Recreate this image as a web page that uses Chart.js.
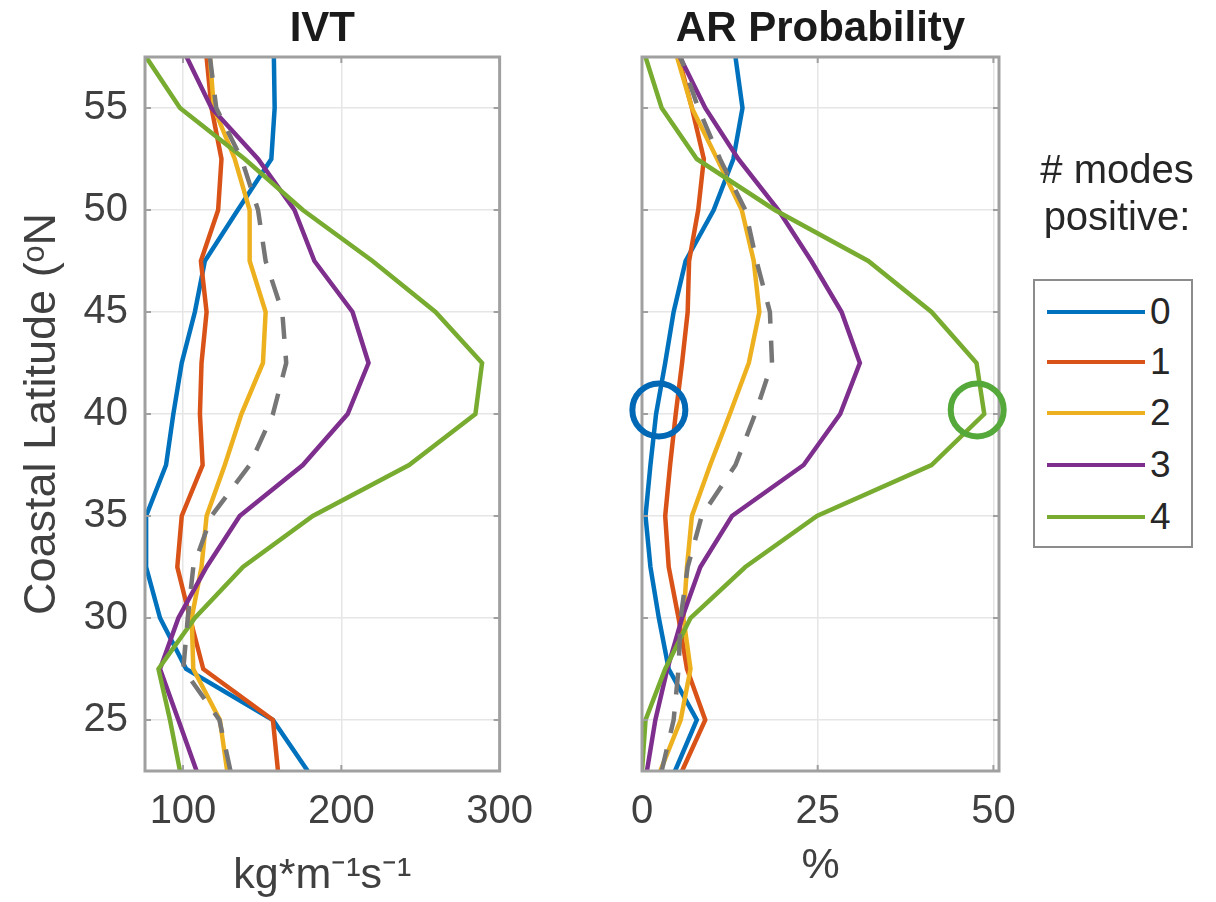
<!DOCTYPE html>
<html>
<head>
<meta charset="utf-8">
<title>IVT and AR probability by coastal latitude</title>
<script src="https://cdn.jsdelivr.net/npm/chart.js@4.4.1/dist/chart.umd.min.js"></script>
<style>
  html, body { margin: 0; padding: 0; background: #fff; }
  body {
    width: 1216px; height: 902px; position: relative; overflow: hidden;
    font-family: "Liberation Sans", Arial, sans-serif; color: #262626;
  }
  #ivtWrap { position: absolute; left: 0; top: 0; }
  #arWrap { position: absolute; left: 560px; top: 0; }
  #legendTitle {
    position: absolute; left: 1017px; top: 146px; width: 200px;
    text-align: center; font-size: 40px; line-height: 47px; color: #262626;
  }
  #legend {
    position: absolute; left: 1033px; top: 279px; width: 156px; height: 265px;
    border: 2px solid #8c8c8c; background: #fff;
  }
  .legend-row { position: absolute; left: 0; width: 156px; height: 40px; }
  .legend-line { position: absolute; left: 12px; top: 18px; width: 98px; height: 4px; }
  .legend-label {
    position: absolute; left: 115px; top: 0; font-size: 37px; line-height: 40px; color: #262626;
  }
</style>
</head>
<body>
<div id="ivtWrap"><canvas id="ivtChart" width="550" height="902"></canvas></div>
<div id="arWrap"><canvas id="arChart" width="480" height="902"></canvas></div>
<div id="legendTitle"># modes<br>positive:</div>
<div id="legend"></div>

<script>
// latitude of each sample, south to north
const latitudes = [22.5, 25, 27.5, 30, 32.5, 35, 37.5, 40, 42.5, 45, 47.5, 50, 52.5, 55, 57.5];

const seriesNames = ['0', '1', '2', '3', '4'];
const seriesColors = ['#0072BD', '#D95319', '#EDB120', '#7E2F8E', '#77AC30'];
const meanColor = '#767676';

// IVT (kg m-1 s-1), one array per number of positive modes
const ivtModes0 = [178.8, 156.8, 102.0, 85.5, 76.7, 76.7, 89.3, 93.9, 99.2, 107.5, 113.8, 134.6, 155.8, 157.9, 157.4];
const ivtModes1 = [160.0, 156.8, 112.8, 104.4, 96.4, 99.2, 112.4, 110.7, 111.7, 114.9, 111.3, 122.2, 124.3, 118.0, 114.9];
const ivtModes2 = [127.9, 123.3, 106.5, 105.5, 111.7, 114.9, 126.4, 136.9, 150.5, 152.2, 142.1, 142.1, 132.7, 119.5, 117.0];
const ivtModes3 = [108.6, 97.1, 85.5, 97.1, 114.9, 135.8, 175.7, 204.0, 217.2, 207.1, 183.0, 170.4, 147.4, 118.0, 102.3];
const ivtModes4 = [98.1, 91.8, 84.5, 107.5, 137.9, 182.0, 242.8, 284.7, 288.9, 259.5, 219.7, 175.7, 139.0, 98.1, 76.7];
const ivtMean = [130.0, 123.0, 100.2, 103.0, 106.5, 118.0, 142.1, 156.8, 165.2, 162.7, 152.2, 147.4, 137.0, 121.0, 117.0];

// AR probability (%)
const arModes0 = [4.7, 7.8, 3.8, 2.4, 1.2, 0.5, 1.2, 2.0, 3.3, 4.5, 6.2, 10.2, 13.0, 14.3, 13.3];
const arModes1 = [5.7, 9.0, 6.4, 5.2, 3.8, 3.3, 4.0, 4.8, 5.7, 6.5, 6.7, 8.0, 8.8, 7.1, 5.2];
const arModes2 = [2.6, 5.5, 6.9, 5.9, 6.4, 7.1, 9.7, 12.5, 15.2, 16.7, 15.9, 14.2, 10.7, 7.1, 5.0];
const arModes3 = [0.7, 1.9, 3.6, 5.7, 8.3, 12.8, 23.0, 28.2, 31.0, 28.4, 24.1, 19.4, 13.7, 9.0, 5.4];
const arModes4 = [0.0, 0.5, 3.3, 6.9, 14.7, 24.9, 41.2, 48.7, 47.6, 41.2, 32.2, 18.9, 7.8, 2.8, 0.5];
const arMean = [2.8, 4.5, 5.2, 5.5, 6.5, 8.5, 13.3, 16.1, 18.5, 18.2, 16.3, 14.7, 11.1, 8.0, 5.5];

// tick labels
const latTicks = [25, 30, 35, 40, 45, 50, 55];
const ivtTicks = [100, 200, 300];
const arTicks = [0, 25, 50];

// highlighted points on the AR panel (percent, latitude)
const arHighlights = [
    { x: 2.4, y: 40.2, color: '#0068B5' },
    { x: 47.7, y: 40.2, color: '#55A83A' }
];

const FONT = '"Liberation Sans", Arial, sans-serif';
const TEXT = '#404040';
const GRID = '#e6e6e6';
const BOX = '#a0a0a0';

Chart.defaults.font.family = FONT;
Chart.defaults.color = TEXT;

function toPoints(values) {
    return values.map((v, i) => ({ x: v, y: latitudes[i] }));
}

function buildDatasets(modeSeries, mean) {
    const sets = modeSeries.map((values, i) => ({
        label: seriesNames[i],
        data: toPoints(values),
        borderColor: seriesColors[i],
        borderWidth: 4.5,
        pointRadius: 0,
        showLine: true,
        tension: 0,
        order: modeSeries.length - i
    }));
    sets.push({
        label: 'mean',
        data: toPoints(mean),
        borderColor: meanColor,
        borderWidth: 4.5,
        borderDash: [22, 17],
        pointRadius: 0,
        showLine: true,
        tension: 0,
        order: 0
    });
    return sets;
}

// axes box with inward tick marks, like the original figure
const boxPlugin = {
    id: 'axesBox',
    afterDatasetsDraw(chart) {
        const { ctx, chartArea: a, scales } = chart;
        ctx.save();
        ctx.strokeStyle = BOX;
        ctx.lineWidth = 3;
        ctx.strokeRect(a.left, a.top, a.right - a.left, a.bottom - a.top);
        ctx.lineWidth = 2;
        const len = 6;
        ctx.beginPath();
        scales.x.ticks.forEach(t => {
            const px = scales.x.getPixelForValue(t.value);
            ctx.moveTo(px, a.bottom); ctx.lineTo(px, a.bottom - len);
            ctx.moveTo(px, a.top); ctx.lineTo(px, a.top + len);
        });
        scales.y.ticks.forEach(t => {
            const py = scales.y.getPixelForValue(t.value);
            ctx.moveTo(a.left, py); ctx.lineTo(a.left + len, py);
            ctx.moveTo(a.right, py); ctx.lineTo(a.right - len, py);
        });
        ctx.stroke();
        ctx.restore();
    }
};

const highlightPlugin = {
    id: 'highlights',
    afterDraw(chart, args, opts) {
        if (!opts.points) return;
        const { ctx, scales } = chart;
        ctx.save();
        ctx.lineWidth = 6;
        opts.points.forEach(p => {
            ctx.strokeStyle = p.color;
            ctx.beginPath();
            ctx.arc(scales.x.getPixelForValue(p.x), scales.y.getPixelForValue(p.y), 26.5, 0, Math.PI * 2);
            ctx.stroke();
        });
        ctx.restore();
    }
};

function makeChart(canvasId, cfg) {
    return new Chart(document.getElementById(canvasId), {
        type: 'scatter',
        data: { datasets: buildDatasets(cfg.modes, cfg.mean) },
        plugins: [boxPlugin, highlightPlugin],
        options: {
            responsive: false,
            animation: false,
            devicePixelRatio: 1,
            layout: { padding: { left: 0, right: cfg.padRight, top: 0, bottom: 0 } },
            plugins: {
                legend: { display: false },
                tooltip: { enabled: false },
                title: {
                    display: true,
                    text: cfg.title,
                    fullSize: false,
                    color: '#1a1a1a',
                    font: { size: 42, weight: 'bold' },
                    padding: { top: 4, bottom: 2.6 }
                },
                highlights: { points: cfg.highlights || null }
            },
            scales: {
                x: {
                    type: 'linear',
                    min: cfg.xMin,
                    max: cfg.xMax,
                    afterBuildTicks: s => { s.ticks = cfg.xTicks.map(v => ({ value: v })); },
                    afterFit: s => { s.height = 131; },
                    grid: { color: GRID, lineWidth: 1.5, drawTicks: false },
                    border: { display: false },
                    ticks: { padding: 17, color: TEXT, font: { size: 40 }, maxRotation: 0, autoSkip: false },
                    title: {
                        display: true,
                        text: cfg.xTitle,
                        color: TEXT,
                        font: { size: 43 },
                        padding: { top: 0, bottom: cfg.xTitlePad }
                    }
                },
                y: {
                    type: 'linear',
                    min: 22.5,
                    max: 57.5,
                    afterBuildTicks: s => { s.ticks = latTicks.map(v => ({ value: v })); },
                    afterFit: s => { s.width = cfg.yWidth; },
                    grid: { color: GRID, lineWidth: 1.5, drawTicks: false },
                    border: { display: false },
                    ticks: { display: cfg.yLabels, padding: 17, color: TEXT, font: { size: 40 }, autoSkip: false },
                    title: {
                        display: cfg.yLabels,
                        text: 'Coastal Latitude (\u1D52N',
                        color: TEXT,
                        font: { size: 45 },
                        padding: { top: 16, bottom: 0 }
                    }
                }
            }
        }
    });
}

makeChart('ivtChart', {
    title: 'IVT',
    modes: [ivtModes0, ivtModes1, ivtModes2, ivtModes3, ivtModes4],
    mean: ivtMean,
    xMin: 76, xMax: 300, xTicks: ivtTicks,
    xTitle: 'kg*m\u207B\u00B9s\u207B\u00B9', xTitlePad: 0,
    yWidth: 145, yLabels: true, padRight: 48
});

makeChart('arChart', {
    title: 'AR Probability',
    modes: [arModes0, arModes1, arModes2, arModes3, arModes4],
    mean: arMean,
    xMin: 0, xMax: 50.8, xTicks: arTicks,
    xTitle: '%', xTitlePad: 10,
    yWidth: 82, yLabels: false, padRight: 41,
    highlights: arHighlights
});

// legend rows built from the series names and colours
const legend = document.getElementById('legend');
const rowCentres = [31, 81, 132, 184, 236];
seriesNames.forEach((name, i) => {
    const row = document.createElement('div');
    row.className = 'legend-row';
    row.style.top = (rowCentres[i] - 20) + 'px';
    const line = document.createElement('div');
    line.className = 'legend-line';
    line.style.background = seriesColors[i];
    const label = document.createElement('div');
    label.className = 'legend-label';
    label.textContent = name;
    row.appendChild(line);
    row.appendChild(label);
    legend.appendChild(row);
});
</script>
</body>
</html>
